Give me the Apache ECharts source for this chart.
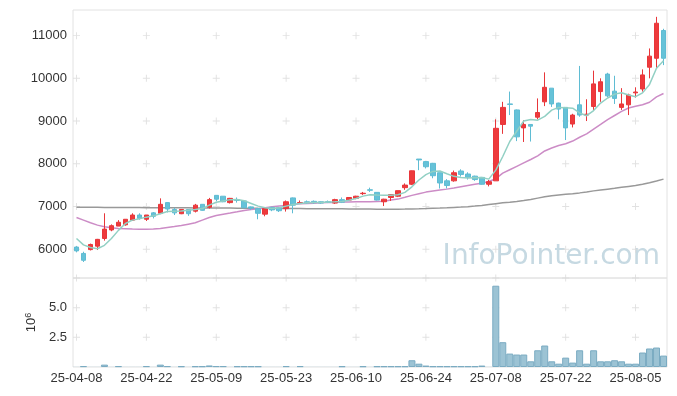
<!DOCTYPE html>
<html><head><meta charset="utf-8">
<script src="https://cdn.jsdelivr.net/npm/echarts@6/dist/echarts.min.js"></script>
<style>html,body{margin:0;padding:0;background:#fff}#c{width:677px;height:396px}</style>
</head><body><div id="c"></div>
<script>
const dates = ['25-04-08','25-04-09','25-04-10','25-04-11','25-04-14','25-04-15','25-04-16','25-04-17','25-04-18','25-04-21',
'25-04-22','25-04-23','25-04-24','25-04-25','25-04-28','25-04-29','25-04-30','25-05-02','25-05-07','25-05-08',
'25-05-09','25-05-12','25-05-13','25-05-14','25-05-15','25-05-16','25-05-19','25-05-20','25-05-21','25-05-22',
'25-05-23','25-05-26','25-05-27','25-05-28','25-05-29','25-05-30','25-06-02','25-06-04','25-06-05','25-06-09',
'25-06-10','25-06-11','25-06-12','25-06-13','25-06-16','25-06-17','25-06-18','25-06-19','25-06-20','25-06-23',
'25-06-24','25-06-25','25-06-26','25-06-27','25-06-30','25-07-01','25-07-02','25-07-03','25-07-04','25-07-07',
'25-07-08','25-07-09','25-07-10','25-07-11','25-07-14','25-07-15','25-07-16','25-07-17','25-07-18','25-07-21',
'25-07-22','25-07-23','25-07-24','25-07-25','25-07-28','25-07-29','25-07-30','25-07-31','25-08-01','25-08-04',
'25-08-05','25-08-06','25-08-07','25-08-08','25-08-11'];

const opens = [6050,5900,5990,6070,6250,6450,6540,6570,6680,6800,
6700,6850,6840,7090,6930,6830,6930,6890,7050,6980,
7260,7240,7090,7160,7130,6990,6950,6820,6980,6970,
6950,7200,7080,7110,7120,7110,7110,7080,7160,7150,
7190,7300,7390,7330,7110,7210,7240,7440,7520,8110,
8050,8010,7790,7600,7600,7830,7760,7710,7680,7520,
7600,8920,9400,9260,8840,8920,9090,9450,9770,9420,
9320,8930,9380,9140,9340,9690,10100,9700,9320,9380,
9660,9750,10260,10470,11120];
const closes = [5960,5740,6110,6230,6470,6550,6630,6700,6800,6720,
6800,6770,7050,6940,6850,6930,6830,7030,6910,7160,
7170,7110,7190,7140,6970,6960,6840,6950,6920,6900,
7110,7030,7090,7085,7090,7080,7100,7160,7100,7210,
7240,7310,7380,7150,7170,7280,7370,7500,7835,8090,
7930,7720,7550,7490,7790,7750,7680,7630,7520,7580,
8830,9320,9390,8630,8920,8880,9200,9790,9400,9280,
8840,9140,9140,9160,9870,9920,9590,9530,9400,9610,
9680,10080,10520,11290,10470];
const lows = [5930,5700,5970,5980,6200,6420,6540,6550,6660,6690,
6660,6720,6820,6860,6800,6820,6780,6860,6900,6950,
7120,7100,7070,7090,6960,6920,6700,6770,6890,6870,
6880,6840,7060,7060,7060,7060,7080,7060,7080,7130,
7170,7270,7340,7140,7010,7130,7220,7390,7500,7850,
7890,7660,7420,7420,7580,7700,7630,7600,7510,7470,
7600,8700,9140,8530,8510,8520,9040,9350,9330,9040,
8555,8850,9100,9000,9250,9450,9560,9400,9260,9140,
9550,9690,10000,10240,10310];
const highs = [6070,5940,6130,6240,6840,6580,6680,6700,6840,6840,
6800,6870,7190,7100,6970,6930,6930,7060,7050,7200,
7260,7240,7200,7210,7140,7000,6960,6960,6990,6990,
7140,7210,7140,7140,7140,7120,7140,7180,7210,7220,
7250,7340,7440,7330,7180,7290,7370,7540,7840,8110,
8060,8020,7790,7640,7840,7870,7800,7720,7690,7620,
9040,9450,9690,9270,9020,8920,9530,10140,9770,9430,
9320,9170,10290,9510,10180,10000,10130,10060,9770,9640,
9790,10210,10700,11440,11160];

const ma5 = [6250,6100,6040,6010,6090,6250,6440,6600,6680,6710,
6750,6780,6830,6880,6890,6895,6910,6930,6950,7030,
7100,7130,7160,7165,7133,7071,7008,6969,6953,6969,
7008,7047,7071,7086,7094,7094,7102,7109,7117,7148,
7188,7242,7275,7266,7262,7262,7275,7330,7460,7620,
7745,7820,7830,7765,7705,7680,7665,7672,7676,7640,
7850,8170,8520,8760,9000,9035,9020,9110,9255,9320,
9310,9300,9190,9125,9245,9420,9540,9630,9662,9610,
9570,9660,9858,10236,10410];
const ma20 = [6740,6680,6617,6563,6523,6500,6484,6477,6470,6469,
6469,6475,6484,6508,6531,6555,6586,6617,6680,6742,
6789,6820,6845,6875,6907,6930,6945,6969,6992,7008,
7024,7047,7062,7071,7078,7086,7090,7094,7102,7102,
7109,7109,7113,7117,7120,7149,7172,7215,7260,7300,
7336,7360,7383,7406,7430,7461,7492,7520,7545,7585,
7650,7780,7860,7940,8020,8100,8185,8300,8370,8428,
8470,8531,8620,8700,8810,8920,9035,9130,9225,9305,
9345,9382,9440,9566,9645];
const ma120 = [6980,6980,6980,6979,6978,6976,6975,6975,6974,6973,
6972,6971,6970,6970,6969,6968,6967,6966,6965,6965,
6964,6963,6962,6961,6960,6958,6956,6955,6954,6953,
6952,6951,6950,6949,6948,6947,6946,6945,6944,6942,
6940,6939,6938,6937,6936,6936,6937,6939,6942,6946,
6951,6957,6963,6970,6978,6986,6995,7008,7025,7045,
7065,7085,7100,7118,7140,7165,7195,7225,7250,7270,
7285,7300,7318,7340,7365,7385,7405,7425,7448,7470,
7490,7520,7555,7595,7640];
const volume = [0.01,0.07,0.01,0.01,0.2,0.01,0.07,0.01,0.01,0.01,
0.07,0.01,0.2,0.07,0.01,0.06,0.01,0.06,0.06,0.13,
0.07,0.07,0.01,0.06,0.06,0.06,0.06,0.01,0.01,0.01,
0.07,0.01,0.07,0.01,0.01,0.01,0.01,0.01,0.06,0.01,
0.01,0.06,0.01,0.06,0.06,0.06,0.06,0.06,0.57,0.28,
0.12,0.06,0.06,0.06,0.06,0.06,0.06,0.06,0.12,0.01,
6.85,2.09,1.13,1.05,1.05,0.48,1.41,1.81,0.48,0.28,
0.79,0.37,1.41,0.28,1.41,0.48,0.48,0.57,0.48,0.28,
0.28,1.22,1.56,1.64,0.96];

const xTickIdx = [0,10,20,30,40,50,60,70,80];
const priceTicks = [6000,7000,8000,9000,10000,11000];
const volTicks = [2.5,5.0,7.5];

const FONT = 'Liberation Sans';
const crossPath = 'path://M0,2.6H6V3.4H0Z M2.6,0H3.4V6H2.6Z';
const priceCross = [], volCross = [];
xTickIdx.forEach(i => { priceTicks.forEach(v => priceCross.push([i, v])); volTicks.forEach(v => volCross.push([i, v])); });

const kdata = opens.map((o, i) => [o, closes[i], lows[i], highs[i]]);
// bars too thin to show an outline in the reference are drawn without one
const volData = volume.map(v => v < 0.03 ? {value: v, itemStyle: {borderWidth: 0}} : v);

const chart = echarts.init(document.getElementById('c'), null, {renderer: 'canvas'});
chart.setOption({
  animation: false,
  backgroundColor: '#ffffff',
  grid: [
    {left: 73, top: 10, width: 594, height: 268, show: true, borderColor: '#e2e2e2', borderWidth: 1, backgroundColor: 'transparent'},
    {left: 73, top: 278, width: 594, height: 89, show: true, borderColor: '#e2e2e2', borderWidth: 1, backgroundColor: 'transparent'}
  ],
  graphic: [{
    type: 'text', right: 17, top: 243, z: 0, silent: true,
    style: {text: 'InfoPointer.com', font: '28px "DejaVu Sans"', fill: '#c6d9e2'}
  }],
  xAxis: [
    {type: 'category', gridIndex: 0, data: dates, boundaryGap: true,
     axisLine: {show: false}, axisTick: {show: false}, axisLabel: {show: false}, splitLine: {show: false}},
    {type: 'category', gridIndex: 1, data: dates, boundaryGap: true,
     axisLine: {show: false}, axisTick: {show: false}, splitLine: {show: false},
     axisLabel: {interval: 9, fontSize: 13, color: '#333', margin: 5, fontFamily: FONT}}
  ],
  yAxis: [
    {type: 'value', gridIndex: 0, min: 5325, max: 11600, minInterval: 1000, maxInterval: 1000,
     axisLine: {show: false}, axisTick: {show: false}, splitLine: {show: false},
     axisLabel: {fontSize: 13, color: '#333', margin: 6, fontFamily: FONT,
       formatter: v => (v % 1000 === 0 ? String(v) : '')}},
    {type: 'value', gridIndex: 1, min: 0, max: 7.5, interval: 2.5,
     axisLine: {show: false}, axisTick: {show: false}, splitLine: {show: false},
     axisLabel: {fontSize: 13, color: '#333', margin: 6, fontFamily: FONT,
       formatter: v => (v === 0 || v === 7.5 ? '' : v.toFixed(1))},
     name: '{a|10}{s|6}', nameLocation: 'middle', nameRotate: 90, nameGap: 33,
     nameTextStyle: {rich: {a: {fontSize: 13, color: '#333', fontFamily: FONT}, s: {fontSize: 9, color: '#333', fontFamily: FONT, verticalAlign: 'top', padding: [0,0,6,0]}}}}
  ],
  series: [
    {type: 'scatter', xAxisIndex: 0, yAxisIndex: 0, data: priceCross, symbol: crossPath, symbolSize: 7, silent: true, z: 1,
     itemStyle: {color: '#d9d9d9'}},
    {type: 'scatter', xAxisIndex: 1, yAxisIndex: 1, data: volCross, symbol: crossPath, symbolSize: 7, silent: true, z: 1,
     itemStyle: {color: '#d9d9d9'}},
    {type: 'line', xAxisIndex: 0, yAxisIndex: 0, data: ma120, showSymbol: false, silent: true, z: 2,
     lineStyle: {color: '#999999', width: 1.5}},
    {type: 'line', xAxisIndex: 0, yAxisIndex: 0, data: ma20, showSymbol: false, silent: true, z: 2,
     lineStyle: {color: '#cc8cc6', width: 1.5}},
    {type: 'candlestick', xAxisIndex: 0, yAxisIndex: 0, data: kdata, barWidth: 5, z: 3,
     itemStyle: {color: '#ee3a3c', color0: '#66c2d8', borderColor: '#e8363a', borderColor0: '#5fbcd3', borderWidth: 1}},
    {type: 'line', xAxisIndex: 0, yAxisIndex: 0, data: ma5, showSymbol: false, silent: true, z: 4,
     lineStyle: {color: '#92d0c4', width: 1.5}},
    {type: 'bar', xAxisIndex: 1, yAxisIndex: 1, data: volData, barCategoryGap: '0%', z: 3,
     itemStyle: {color: '#9cc3d4', borderColor: '#7aabc2', borderWidth: 1}}
  ]
});
</script></body></html>
